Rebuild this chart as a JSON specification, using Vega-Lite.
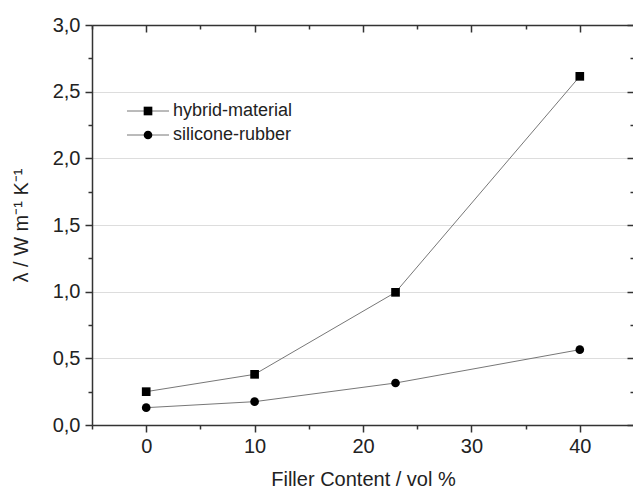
{
  "$schema": "https://vega.github.io/schema/vega-lite/v6.json",
  "width": 542,
  "height": 400,
  "autosize": "none",
  "padding": {"left": 92, "top": 25, "right": 0, "bottom": 64},
  "background": "white",
  "config": {
    "view": {"stroke": null},
    "font": "Liberation Sans",
    "axis": {"domainColor": "#333", "domainWidth": 1.5, "tickColor": "#333", "tickWidth": 1.5, "labelColor": "#222", "titleColor": "#222", "labelFontSize": 20, "titleFontSize": 20, "titleFontWeight": "normal", "labelFont": "Liberation Sans", "titleFont": "Liberation Sans"},
    "legend": {"padding": 0}
  },
  "data": {
    "values": [
      {"series": "hybrid-material", "filler": 0, "lambda": 0.25},
      {"series": "hybrid-material", "filler": 10, "lambda": 0.38},
      {"series": "hybrid-material", "filler": 23, "lambda": 0.995},
      {"series": "hybrid-material", "filler": 40, "lambda": 2.615},
      {"series": "silicone-rubber", "filler": 0, "lambda": 0.13},
      {"series": "silicone-rubber", "filler": 10, "lambda": 0.175},
      {"series": "silicone-rubber", "filler": 23, "lambda": 0.315},
      {"series": "silicone-rubber", "filler": 40, "lambda": 0.565}
    ]
  },
  "layer": [
    {
      "mark": {"type": "point", "opacity": 0},
      "encoding": {
        "x": {"field": "filler", "type": "quantitative", "scale": {"domain": [-5, 45], "nice": false, "zero": false},
          "axis": {"orient": "top", "values": [0, 10, 20, 30, 40], "tickSize": -7, "labels": false, "title": null, "grid": false, "domain": true}},
        "y": {"field": "lambda", "type": "quantitative", "scale": {"domain": [0, 3], "nice": false},
          "axis": {"orient": "right", "values": [0, 0.5, 1, 1.5, 2, 2.5, 3], "tickSize": -7, "labels": false, "title": null, "grid": false, "domain": true}}
      }
    },
    {
      "mark": {"type": "point", "opacity": 0},
      "encoding": {
        "x": {"field": "filler", "type": "quantitative",
          "axis": {"orient": "top", "values": [-5, 5, 15, 25, 35, 45], "tickSize": -4, "labels": false, "title": null, "grid": false, "domain": false}},
        "y": {"field": "lambda", "type": "quantitative",
          "axis": {"orient": "right", "values": [0.25, 0.75, 1.25, 1.75, 2.25, 2.75], "tickSize": -4, "labels": false, "title": null, "grid": false, "domain": false}}
      }
    },
    {
      "mark": {"type": "point", "opacity": 0},
      "encoding": {
        "x": {"field": "filler", "type": "quantitative",
          "axis": {"orient": "bottom", "values": [-5, 5, 15, 25, 35, 45], "tickSize": 4, "labels": false, "title": null, "grid": false, "domain": false}},
        "y": {"field": "lambda", "type": "quantitative",
          "axis": {"orient": "left", "values": [0.25, 0.75, 1.25, 1.75, 2.25, 2.75], "tickSize": 4, "labels": false, "title": null, "grid": false, "domain": false}}
      }
    },
    {
      "mark": {"type": "line", "strokeWidth": 1},
      "encoding": {
        "x": {"field": "filler", "type": "quantitative",
          "axis": {"orient": "bottom", "values": [0, 10, 20, 30, 40], "tickSize": 7, "labelPadding": 4, "grid": false, "title": "Filler Content / vol %", "titlePadding": 13}},
        "y": {"field": "lambda", "type": "quantitative",
          "axis": {"orient": "left", "values": [0, 0.5, 1, 1.5, 2, 2.5, 3], "tickSize": 7, "labelPadding": 5, "grid": true, "gridColor": "#dddddd", "gridWidth": 1,
            "labelExpr": "replace(format(datum.value, '.1f'), '.', ',')", "title": "λ / W m⁻¹ K⁻¹", "titlePadding": 21}},
        "color": {"field": "series", "type": "nominal",
          "scale": {"domain": ["hybrid-material", "silicone-rubber"], "range": ["#777777", "#777777"]},
          "legend": {"orient": "none", "legendX": 47, "legendY": 77, "title": null, "symbolType": "M-4.85,0H4.85", "symbolSize": 75, "symbolStrokeWidth": 1, "labelOpacity": 0, "labelFontSize": 18, "labelOffset": 16, "rowPadding": 6}}
      }
    },
    {
      "mark": {"type": "point", "filled": true, "color": "black", "size": 75, "opacity": 1},
      "encoding": {
        "x": {"field": "filler", "type": "quantitative", "axis": null},
        "y": {"field": "lambda", "type": "quantitative", "axis": null},
        "shape": {"field": "series", "type": "nominal",
          "scale": {"range": ["square", "circle"]},
          "legend": {"orient": "none", "legendX": 47, "legendY": 77, "title": null, "symbolFillColor": "black", "symbolStrokeWidth": 0, "symbolSize": 75, "labelFontSize": 18, "labelColor": "#222", "labelOffset": 16, "rowPadding": 6}}
      }
    }
  ],
  "resolve": {"axis": {"x": "independent", "y": "independent"}}
}
